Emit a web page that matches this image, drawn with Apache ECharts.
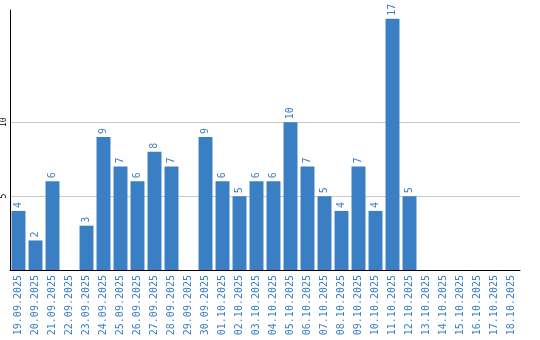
<!DOCTYPE html>
<html>
<head>
<meta charset="utf-8">
<script src="https://cdn.jsdelivr.net/npm/echarts@6/dist/echarts.min.js"></script>
<style>html,body{margin:0;padding:0;background:#fff}#c{width:540px;height:340px}</style>
</head>
<body>
<div id="c"></div>
<script>
const categories = ['19.09.2025','20.09.2025','21.09.2025','22.09.2025','23.09.2025','24.09.2025','25.09.2025','26.09.2025','27.09.2025','28.09.2025','29.09.2025','30.09.2025','01.10.2025','02.10.2025','03.10.2025','04.10.2025','05.10.2025','06.10.2025','07.10.2025','08.10.2025','09.10.2025','10.10.2025','11.10.2025','12.10.2025','13.10.2025','14.10.2025','15.10.2025','16.10.2025','17.10.2025','18.10.2025'];
const counts = [4,2,6,0,3,9,7,6,8,7,0,9,6,5,6,6,10,7,5,4,7,4,17,5,0,0,0,0,0,0];
const yTicks = [5,10];
const yMax = 17.6;

const blue = '#3a7ec3';
const chart = echarts.init(document.getElementById('c'), null, {renderer:'canvas'});
chart.setOption({
  animation:false,
  grid:{left:10,right:20,top:10,bottom:70,containLabel:false},
  xAxis:{
    type:'category', data:categories,
    axisLine:{lineStyle:{color:'#000',width:1}},
    axisTick:{show:false},
    axisLabel:{rotate:90,interval:0,color:blue,fontFamily:'DejaVu Sans Mono',fontSize:10,margin:5}
  },
  yAxis:{
    type:'value', min:0, max:yMax, interval:5,
    axisLine:{show:true,lineStyle:{color:'#000',width:1}},
    axisTick:{show:false},
    splitLine:{show:false},
    axisLabel:{rotate:90,color:'#000',fontFamily:'DejaVu Sans Mono',fontSize:8,margin:2,
      formatter:v=>yTicks.includes(v)?String(v):''}
  },
  series:[{
    type:'bar', data:counts, barCategoryGap:'18%',
    itemStyle:{color:blue},
    label:{show:true,position:'top',rotate:90,align:'left',verticalAlign:'middle',distance:3,
      color:blue,fontFamily:'DejaVu Sans Mono',fontSize:10,
      formatter:p=>p.value?String(p.value):''},
    markLine:{silent:true,symbol:'none',label:{show:false},
      lineStyle:{color:'#c8c8c8',type:'solid',width:1},
      data:yTicks.map(v=>({yAxis:v})), z:0},
    z:2
  }]
});
</script>
</body>
</html>
